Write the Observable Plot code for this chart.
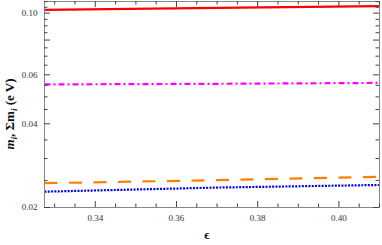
<!DOCTYPE html>
<html><head><meta charset="utf-8">
<script src="https://cdn.jsdelivr.net/npm/d3@7"></script>
<script src="https://cdn.jsdelivr.net/npm/@observablehq/plot@0.6"></script>
<style>body{margin:0;background:#fff}</style>
</head><body><div id="chart"></div>
<script>
const epsilon = [0.3275, 0.37, 0.41];
const m3 = [0.1028, 0.1044, 0.1060];        // red solid (sum)
const m2 = [0.0554, 0.0557, 0.0561];        // magenta dash-dot
const m1 = [0.02446, 0.02508, 0.02577];     // orange dashed
const m0 = [0.0228, 0.02359, 0.0241];       // blue dotted
const xMajor = [0.34, 0.36, 0.38, 0.40];
const xMinor = [0.33, 0.335, 0.345, 0.35, 0.355, 0.365, 0.37, 0.375, 0.385, 0.39, 0.395, 0.405, 0.41];
const yMajor = [0.02, 0.04, 0.06, 0.08, 0.10];
const yMinor = [0.025, 0.03, 0.035, 0.045, 0.05, 0.055, 0.065, 0.07, 0.075, 0.085, 0.09, 0.095, 0.105, 0.11];

const series = [
  {v: m3, color: "#ff0000", dash: null},
  {v: m2, color: "#ff00ff", dash: "6,3,2,3"},
  {v: m1, color: "#ff8000", dash: "13,11.5"},
  {v: m0, color: "#0000ff", dash: "2,1.3"}
];
const marks = series.map(s => Plot.line(epsilon.map((x, i) => ({x, y: s.v[i]})), {
  x: "x", y: "y", stroke: s.color, strokeWidth: 2.2, strokeDasharray: s.dash, strokeLinecap: "butt"
}));

const W = 382, H = 245, ML = 44, MR = 3, MT = 1, MB = 38;
const FH = H - MT - MB, FW = W - ML - MR;
const font = "Liberation Serif";
const tick = (vals, len, side) => {
  const o = {stroke: "#444", strokeWidth: 1, strokeOpacity: 1};
  if (side === "bottom") return Plot.tickX(vals, {...o, x: d => d, insetTop: FH - len});
  if (side === "top") return Plot.tickX(vals, {...o, x: d => d, insetBottom: FH - len});
  if (side === "left") return Plot.tickY(vals, {...o, y: d => d, insetRight: FW - len});
  return Plot.tickY(vals, {...o, y: d => d, insetLeft: FW - len});
};
const plot = Plot.plot({
  width: W, height: H,
  marginLeft: ML, marginRight: MR, marginTop: MT, marginBottom: MB,
  style: {fontFamily: font, fontSize: "9px"},
  x: {domain: [0.3275, 0.41]},
  y: {type: "log", domain: [0.02, 0.1101]},
  marks: [
    ...marks,
    Plot.frame({stroke: "#888"}),
    tick(xMajor, 6, "bottom"), tick(xMinor, 3.5, "bottom"),
    tick(xMajor, 6, "top"), tick(xMinor, 3.5, "top"),
    tick(yMajor, 6, "left"), tick(yMinor, 3.5, "left"),
    tick(yMajor, 6, "right"), tick(yMinor, 3.5, "right"),
    Plot.axisX(xMajor, {anchor: "bottom", tickSize: 0, tickPadding: 7, tickFormat: d3.format(".2f"), label: null, fontSize: 9, fill: "#333"}),
    Plot.axisY(yMajor, {anchor: "left", tickSize: 0, tickPadding: 7, tickFormat: d3.format(".2f"), label: null, fontSize: 9, fill: "#333"}),
    Plot.text(["ϵ"], {frameAnchor: "bottom", dy: 31, dx: -5, fontWeight: "bold", fontSize: 13, fill: "#111"})
  ]
});
document.getElementById("chart").appendChild(plot);

// rotated y label with mixed styles
const svg = d3.select(plot);
const t = svg.append("text")
  .attr("transform", "translate(14,114) rotate(-90)")
  .attr("text-anchor", "middle")
  .attr("font-family", font)
  .attr("font-size", 13)
  .attr("font-weight", "bold")
  .attr("fill", "#111");
t.append("tspan").attr("font-style", "italic").text("m");
t.append("tspan").attr("font-style", "italic").attr("font-size", 9).attr("dy", 3).text("i");
t.append("tspan").attr("dy", -3).text(", Σm");
t.append("tspan").attr("font-style", "italic").attr("font-size", 9).attr("dy", 3).text("i");
t.append("tspan").attr("dy", -3).text(" (e V)");
</script></body></html>
